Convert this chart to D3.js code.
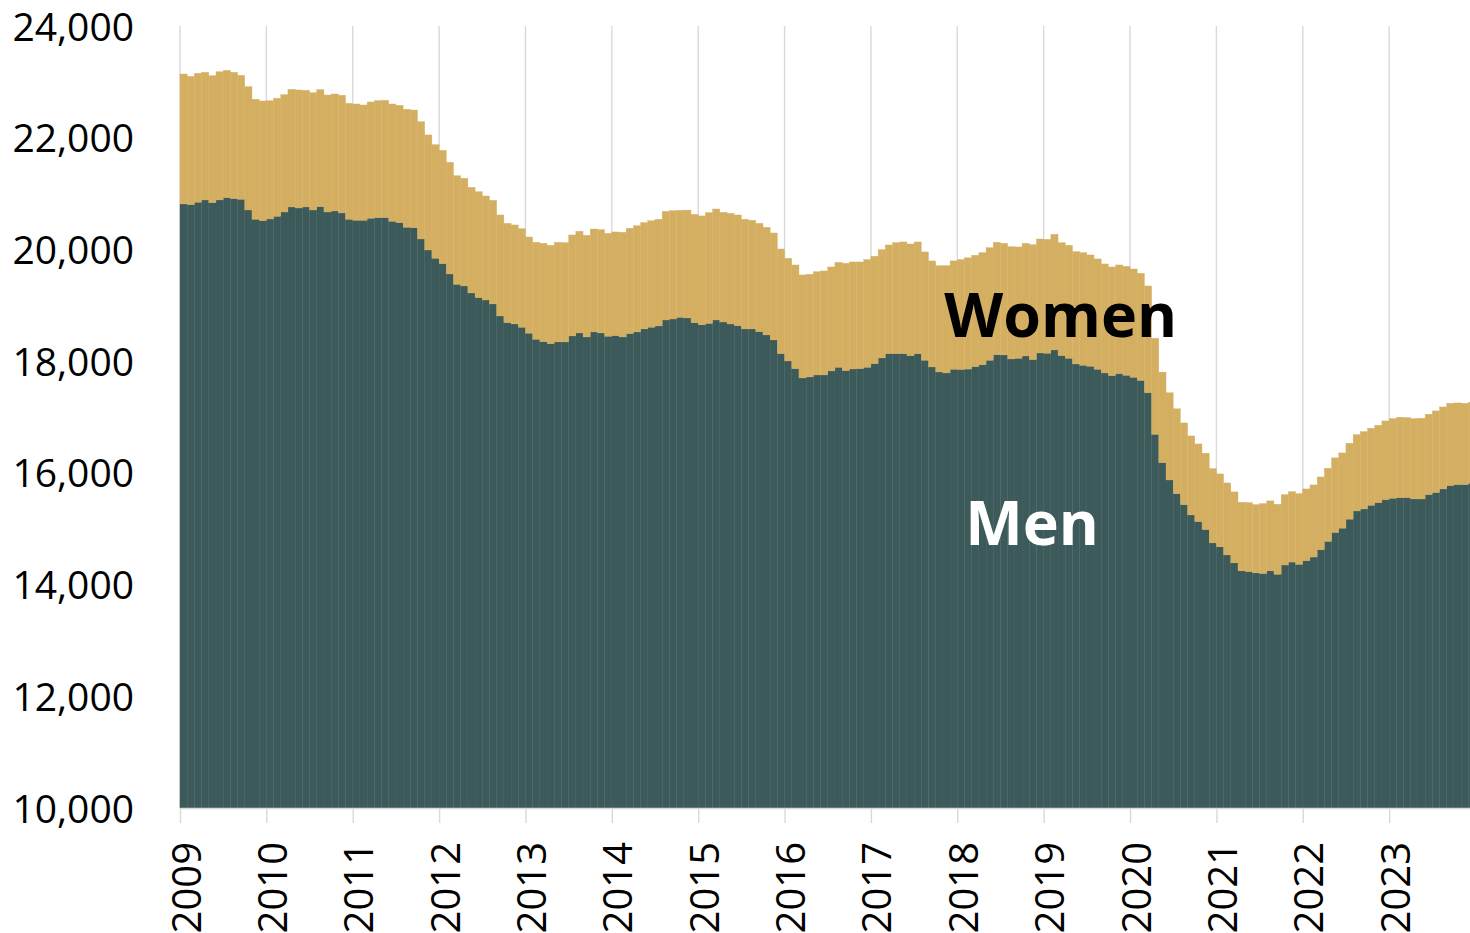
<!DOCTYPE html>
<html>
<head>
<meta charset="utf-8">
<script src="https://cdn.jsdelivr.net/npm/d3@7"></script>
<style>
  body { margin: 0; background: #fff; }
  svg { display: block; font-family: "Open Sans", "Noto Sans", sans-serif; }
</style>
</head>
<body>
<div id="chart"></div>
<script>
// monthly values, Jan 2009 .. Dec 2023
const years = d3.range(2009, 2024);
const months = d3.timeMonth.range(new Date(2009, 0, 1), new Date(2024, 0, 1));

const men = [
  20814, 20802, 20845, 20886, 20838, 20886, 20927, 20910, 20898, 20706, 20540, 20515,
  20545, 20593, 20670, 20760, 20742, 20760, 20706, 20766, 20670, 20688, 20653, 20540,
  20522, 20522, 20558, 20569, 20569, 20504, 20480, 20397, 20390, 20187, 19990, 19842,
  19746, 19561, 19376, 19346, 19221, 19137, 19095, 19024, 18809, 18689, 18666, 18607,
  18500, 18392, 18350, 18314, 18344, 18344, 18451, 18505, 18433, 18523, 18505, 18445,
  18457, 18433, 18493, 18523, 18577, 18607, 18630, 18737, 18755, 18785, 18773, 18686,
  18650, 18675, 18737, 18701, 18665, 18635, 18577, 18577, 18528, 18469, 18380, 18134,
  18003, 17866, 17699, 17717, 17753, 17753, 17825, 17890, 17830, 17860, 17866, 17890,
  17955, 18057, 18134, 18134, 18134, 18098, 18134, 18016, 17896, 17807, 17789, 17855,
  17850, 17858, 17902, 17937, 18016, 18116, 18111, 18039, 18051, 18093, 18027, 18147,
  18141, 18200, 18098, 18051, 17950, 17926, 17908, 17855, 17789, 17741, 17777, 17747,
  17711, 17655, 17435, 16690, 16182, 15873, 15628, 15431, 15247, 15128, 14985, 14746,
  14675, 14531, 14388, 14245, 14233, 14209, 14197, 14245, 14185, 14350, 14403, 14362,
  14427, 14493, 14624, 14773, 14933, 15010, 15171, 15318, 15354, 15419, 15467, 15521,
  15545, 15557, 15557, 15533, 15533, 15611, 15647, 15712, 15772, 15790, 15790, 15814
];

const women = [
  2327, 2297, 2308, 2285, 2273, 2296, 2280, 2261, 2219, 2208, 2148, 2143,
  2119, 2113, 2101, 2107, 2113, 2089, 2101, 2095, 2095, 2095, 2107, 2076,
  2082, 2064, 2082, 2095, 2101, 2100, 2100, 2112, 2106, 2100, 2060, 2033,
  2029, 1999, 1944, 1928, 1891, 1897, 1862, 1856, 1808, 1779, 1772, 1765,
  1723, 1736, 1760, 1760, 1784, 1778, 1808, 1820, 1820, 1843, 1849, 1844,
  1856, 1874, 1886, 1902, 1903, 1908, 1910, 1946, 1939, 1916, 1931, 1942,
  1950, 1985, 1987, 1964, 1982, 1982, 1963, 1945, 1940, 1927, 1915, 1874,
  1839, 1856, 1844, 1839, 1849, 1862, 1861, 1880, 1922, 1916, 1910, 1928,
  1923, 1940, 1946, 1988, 2000, 2000, 2000, 1939, 1898, 1903, 1921, 1940,
  1970, 1992, 1993, 2006, 2016, 2012, 1999, 2011, 1993, 2017, 2059, 2040,
  2040, 2071, 2024, 2023, 2011, 2017, 1993, 1975, 1951, 1945, 1945, 1951,
  1939, 1918, 1911, 1720, 1622, 1561, 1519, 1463, 1414, 1390, 1366, 1330,
  1306, 1289, 1271, 1229, 1235, 1223, 1253, 1253, 1253, 1261, 1262, 1267,
  1285, 1291, 1303, 1310, 1335, 1347, 1359, 1367, 1385, 1379, 1385, 1408,
  1426, 1439, 1433, 1438, 1445, 1439, 1462, 1468, 1474, 1462, 1456, 1450
];

const yTicks = d3.range(10000, 24001, 2000);
const seriesKeys = ["men", "women"];
const colors = { men: "#3d5a5b", women: "#d4af62" };

const data = months.map((m, i) => ({ date: m, i: i, men: men[i], women: women[i] }));

const width = 1470, height = 933;
const margin = { top: 26, left: 180, bottom: 125 };
const plotRight = 1475.5;

const svg = d3.select("#chart")
  .append("svg")
  .attr("width", width)
  .attr("height", height);

const x = d3.scaleLinear()
  .domain([0, months.length])
  .range([margin.left, plotRight]);

const y = d3.scaleLinear()
  .domain([10000, 24000])
  .range([height - margin.bottom, margin.top]);

const yMin = y.domain()[0];

// year gridlines behind the bars
svg.append("g")
  .selectAll("line")
  .data(years)
  .enter()
  .append("line")
  .attr("x1", d => x((d - 2009) * 12))
  .attr("x2", d => x((d - 2009) * 12))
  .attr("y1", y(24000))
  .attr("y2", y(10000))
  .attr("stroke", "#d9d9d9")
  .attr("stroke-width", 1.4);

// stacked bars (axis starts at 10,000 so the bottom is cut there)
const stacked = d3.stack().keys(seriesKeys)(data);

svg.append("g")
  .selectAll("g")
  .data(stacked)
  .enter()
  .append("g")
  .attr("fill", d => colors[d.key])
  .attr("stroke", d => colors[d.key])
  .attr("stroke-width", 0.35)
  .selectAll("rect")
  .data(d => d)
  .enter()
  .append("rect")
  .attr("x", d => x(d.data.i))
  .attr("width", d => x(d.data.i + 1) - x(d.data.i))
  .attr("y", d => y(d[1]))
  .attr("height", d => y(Math.max(d[0], yMin)) - y(d[1]));

// X axis
const xAxis = svg.append("g")
  .attr("transform", `translate(0,${y(10000)})`)
  .call(d3.axisBottom(x)
    .tickValues(years.map(yr => (yr - 2009) * 12))
    .tickFormat(i => 2009 + i / 12)
    .tickSize(15)
    .tickSizeOuter(0));

xAxis.select(".domain")
  .attr("stroke", "#d9d9d9")
  .attr("stroke-width", 1.5);
xAxis.selectAll(".tick line")
  .attr("stroke", "#d9d9d9")
  .attr("stroke-width", 1.4);
xAxis.selectAll(".tick text")
  .attr("transform", "rotate(-90)")
  .attr("x", -34)
  .attr("y", 20)
  .attr("dy", 0)
  .attr("text-anchor", "end")
  .attr("fill", "#000")
  .style("font-size", "40px")
  .style("font-family", "'Open Sans', 'Noto Sans', sans-serif");

// Y axis
const yAxis = svg.append("g")
  .attr("transform", `translate(${margin.left},0)`)
  .call(d3.axisLeft(y)
    .tickValues(yTicks)
    .tickFormat(d3.format(","))
    .tickSize(0)
    .tickPadding(46));

yAxis.select(".domain").remove();
yAxis.selectAll(".tick text")
  .attr("fill", "#000")
  .attr("dy", "0.36em")
  .style("font-size", "39px")
  .style("font-family", "'Open Sans', 'Noto Sans', sans-serif");

// series labels
svg.append("text")
  .attr("x", x(106.2))
  .attr("y", y(18430))
  .attr("fill", "#000")
  .style("font-size", "61px")
  .style("font-weight", "700")
  .text("Women");

svg.append("text")
  .attr("x", x(109.1))
  .attr("y", y(14700))
  .attr("fill", "#fff")
  .style("font-size", "61px")
  .style("font-weight", "700")
  .text("Men");
</script>
</body>
</html>
